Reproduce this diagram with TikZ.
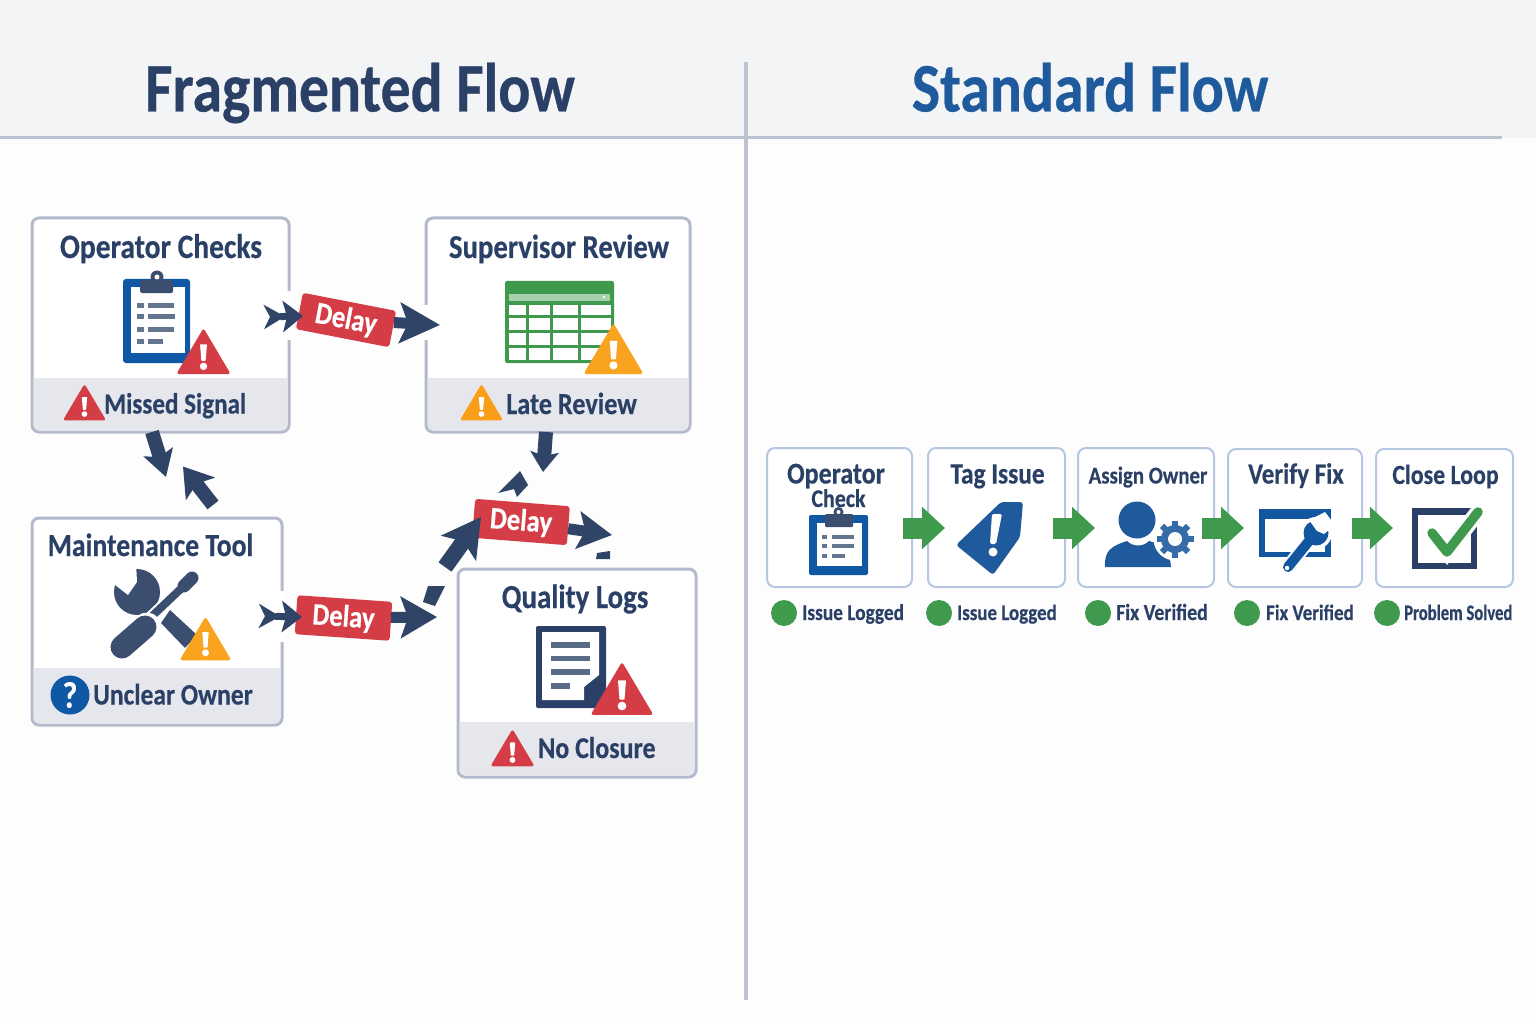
\documentclass[tikz,border=0pt]{standalone}
\usepackage{fontspec}
\setmainfont[FakeStretch=0.86,BoldFeatures={FakeBold=0.45}]{Carlito}
\usetikzlibrary{arrows.meta}

\definecolor{pagegray}{HTML}{FDFDFE}
\definecolor{headgray}{HTML}{F3F4F6}
\definecolor{rulegray}{HTML}{BCC2D1}
\definecolor{cardline}{HTML}{B2BACB}
\definecolor{bandgray}{HTML}{E6E7EC}
\definecolor{softblue}{HTML}{B5C7E0}
\definecolor{navyink}{HTML}{2B4066}
\definecolor{lagink}{HTML}{2F4466}
\definecolor{slateink}{HTML}{3B4E70}
\definecolor{listink}{HTML}{64768F}
\definecolor{blueink}{HTML}{1F5A9C}
\definecolor{boardblue}{HTML}{0F58A6}
\definecolor{alarmred}{HTML}{D43C46}
\definecolor{alarmamber}{HTML}{F9A31F}
\definecolor{okgreen}{HTML}{3F9A4E}
\definecolor{palegreen}{HTML}{A5D0AB}

\tikzset{
  paneltitle/.style={inner sep=0,anchor=base,font=\bfseries\fontsize{69.5}{72}\selectfont},
  cardtitle/.style={inner sep=0,anchor=base,text=navyink,font=\bfseries\fontsize{#1}{#1}\selectfont},
  bandtext/.style={inner sep=0,anchor=base west,text=navyink,font=\bfseries\fontsize{#1}{#1}\selectfont},
  statustext/.style={inner sep=0,anchor=base west,text=navyink,font=\bfseries\fontsize{#1}{#1}\selectfont},
  faultcard/.style={draw=cardline,fill=white,line width=3pt,rounded corners=7pt,inner sep=0,outer sep=0},
  flowcard/.style={draw=softblue,fill=white,line width=2pt,rounded corners=8pt,inner sep=0,outer sep=0},
  delaytag/.style={fill=alarmred,text=white,rounded corners=3pt,inner sep=0,outer sep=0,
    minimum width=95pt,minimum height=39pt,font=\bfseries\fontsize{31}{34}\selectfont},
  lagarrow/.style={lagink,line width=11pt},
  lagstub/.style={lagink,line width=7pt,
    {Stealth[reversed,length=21pt,width=24pt,inset=6pt]}-{Stealth[length=20pt,width=31pt,inset=4pt]}},
  lagbit/.style={fill=lagink},
  cardgap/.style={draw=white,line width=6pt},
  okarrow/.style={okgreen,line width=21pt,-{Triangle[length=23pt,width=41pt]}},
  okdot/.style={circle,fill=okgreen,inner sep=0,outer sep=0,minimum size=26pt}
}

\newcommand{\warnmark}[4]{
  \begin{scope}[shift={(#1,#2)},scale=#3]
    \filldraw[#4,line join=round,line width=3pt] (-.93,-.05) -- (.93,-.05) -- (0,-1.62) -- cycle;
    \fill[white,rounded corners=.5pt] (-.13,-1.12) -- (.13,-1.12) -- (.08,-.5) -- (-.08,-.5) -- cycle;
    \fill[white] (0,-.29) circle (.14);
  \end{scope}
}

\begin{document}
\begin{tikzpicture}[x=1pt,y=-1pt]
  \useasboundingbox (0,0) rectangle (1536,1024);
  \fill[pagegray] (0,0) rectangle (1536,1024);
  \fill[headgray] (0,0) rectangle (1536,138);
  \draw[rulegray,line width=3pt] (0,138) -- (1502,138);
  \draw[rulegray,line width=3.5pt] (746,62) -- (746,1000);

  \node[paneltitle,text=navyink] (fragtitle) at (360,111.5) {Fragmented Flow};
  \node[paneltitle,text=blueink] (stdtitle) at (1090,111.5) {Standard Flow};

  % fault cards
  \node[faultcard,minimum width=257pt,minimum height=214pt] (opcard) at (160.5,325) {};
  \node[faultcard,minimum width=264pt,minimum height=214pt] (supcard) at (558,325) {};
  \node[faultcard,minimum width=250pt,minimum height=207pt] (mtcard) at (157,621.5) {};
  \node[faultcard,minimum width=238pt,minimum height=208pt] (qlcard) at (577,673) {};

  \fill[bandgray] (33.5,378) [rounded corners=6pt] -- (33.5,430.5) -- (287.5,430.5) [sharp corners] -- (287.5,378) -- cycle;
  \fill[bandgray] (427.5,378) [rounded corners=6pt] -- (427.5,430.5) -- (688.5,430.5) [sharp corners] -- (688.5,378) -- cycle;
  \fill[bandgray] (33.5,668) [rounded corners=6pt] -- (33.5,723.5) -- (280.5,723.5) [sharp corners] -- (280.5,668) -- cycle;
  \fill[bandgray] (459.5,722) [rounded corners=6pt] -- (459.5,775.5) -- (694.5,775.5) [sharp corners] -- (694.5,722) -- cycle;

  \node[cardtitle=34.3] (optitle) at (161,258) {Operator Checks};
  \node[cardtitle=33.4] (suptitle) at (559,258) {Supervisor Review};
  \node[cardtitle=32.2] (mttitle) at (150.5,556) {Maintenance Tool};
  \node[cardtitle=33.6] (qltitle) at (575,608) {Quality Logs};

  \node[bandtext=29.2] (missed) at (104,413.5) {Missed Signal};
  \node[bandtext=30.5] (late) at (506,414) {Late Review};
  \node[bandtext=29.7] (unclear) at (93,704.5) {Unclear Owner};
  \node[bandtext=30.2] (noclose) at (538,758) {No Closure};

  % clipboard
  \fill[boardblue,rounded corners=3pt] (123,279) rectangle (190,363);
  \fill[white] (131,287) rectangle (185,353);
  \fill[slateink] (157,277) circle (6.5);
  \fill[white] (157,277) circle (2.5);
  \fill[slateink,rounded corners=1.5pt] (140,280) rectangle (173,293);
  \foreach \y/\e in {305/174,316.5/175,329/174,341/163} {
    \fill[listink] (137,\y-2.5) rectangle (144,\y+2.5);
    \fill[listink] (148,\y-2.5) rectangle (\e,\y+2.5);
  }
  \warnmark{203.5}{374}{26.5}{alarmred}
  \warnmark{84.5}{420}{20.5}{alarmred}

  % sheet
  \fill[okgreen,rounded corners=2pt] (505,281) rectangle (614,363);
  \fill[palegreen] (509,294) rectangle (610,301);
  \fill[white] (604,297) circle (1.3);
  \foreach \t/\b in {305/315,318/330,333/345,348/360} {
    \foreach \l/\r in {509/526,529/550,553/578,581/611} {
      \fill[white] (\l,\t) rectangle (\r,\b);
    }
  }
  \warnmark{613.5}{374}{29.5}{alarmamber}
  \warnmark{481.5}{420}{20.5}{alarmamber!85!orange}

  % tools
  \fill[slateink] (137,592) circle (23);
  \fill[white] (110,581) -- (128,595) -- (137,582) -- (136,562) -- (110,562) -- cycle;
  \fill[slateink] (170,610) -- (197,635) -- (185,648) -- (161,623) -- cycle;
  \draw[white,line width=12pt] (150,618) -- (186,584);
  \draw[slateink,line width=8pt] (150,618) -- (186,584);
  \draw[slateink,line width=13pt,line cap=round] (184,586) -- (192,578);
  \draw[white,line width=27pt,line cap=round] (122,647) -- (147,626);
  \draw[slateink,line width=23pt,line cap=round] (122,647) -- (145,627);
  \warnmark{205.5}{660}{25}{alarmamber}
  \fill[boardblue] (70,695) circle (19.5);
  \node[inner sep=0,text=white,font=\bfseries\fontsize{37}{38}\selectfont] (askmark) at (70,695) {?};

  % log sheet
  \fill[navyink,rounded corners=2pt] (536,626) rectangle (606,708);
  \fill[white] (542,632) -- (599,632) -- (599,675) -- (584,687) -- (584,700) -- (542,700) -- cycle;
  \foreach \y/\e in {645/590,658.5/590,672/590,686/570} {
    \fill[listink!80!navyink] (551,\y-2.7) rectangle (\e,\y+2.7);
  }
  \warnmark{622}{715}{31}{alarmred}
  \warnmark{512.5}{766}{21}{alarmred}

  % delay tags
  \node[delaytag,rotate=-11,minimum height=37pt] (delayA) at (346,320) {Delay};
  \node[delaytag,rotate=-4] (delayB) at (343.5,618) {Delay};
  \node[delaytag,rotate=-4.5] (delayC) at (521,522) {Delay};

  \draw[cardgap] ([shift={(0,-34)}]opcard.east) -- ([shift={(0,15)}]opcard.east);
  \draw[cardgap] ([shift={(0,-20)}]supcard.west) -- ([shift={(0,15)}]supcard.west);
  \draw[cardgap] ([shift={(0,-31)}]mtcard.east) -- ([shift={(0,20)}]mtcard.east);

  % lag connectors
  \coordinate (opstub) at (264,317);
  \coordinate (mtstub) at (259,616);
  \coordinate (opgap) at (166,477);
  \coordinate (mtgap) at (213,505);
  \coordinate (supgap) at (543,472);
  \coordinate (bendlow) at (445,567);
  \coordinate (bendhigh) at (612,535);
  \coordinate (bendtip) at (437,617);
  \draw[lagstub] (opstub) -- ([shift={(-43,-4)}]delayA.center);
  \draw[lagstub] (mtstub) -- ([shift={(-41.5,-1)}]delayB.center);
  \draw[lagarrow,-{Stealth[length=40pt,width=40pt,inset=8pt]}] (delayA) -- ([shift={(14,0)}]supcard.west);
  \draw[lagarrow,-{Stealth[length=36pt,width=41pt,inset=7pt]}] (delayB) -- (bendtip);
  \draw[lagarrow,-{Stealth[length=34pt,width=37pt,inset=7pt]}] (delayC) -- (bendhigh);
  \draw[lagarrow,line width=16pt,-{Stealth[length=38pt,width=42pt,inset=8pt]}] (bendlow) -- ([shift={(-40,-5)}]delayC.center);
  \draw[lagarrow,line width=14pt,-{Stealth[length=20pt,width=28pt,inset=4pt]}] ([shift={(-12,0)}]supcard.south) -- (supgap);
  \draw[lagarrow,line width=14pt,-{Stealth[length=26pt,width=30pt,inset=5pt]}] ([shift={(-8.5,0)}]opcard.south) -- (opgap);
  \draw[lagarrow,line width=14pt,-{Stealth[length=28pt,width=36pt,inset=6pt]}] (mtgap) -- ([shift={(26,-51.5)}]mtcard.north);
  \fill[lagbit] (498,493) -- (520,471) -- (528,485) -- (517,497) -- (514,489) -- cycle;
  \fill[lagbit] (428,586) -- (445,586) -- (435,606) -- (423,602) -- cycle;
  \fill[lagbit] (597,553) -- (610,551) -- (610,559) -- (596,559) -- cycle;

  % standard cards
  \node[flowcard,minimum width=145pt,minimum height=139pt] (stepa) at (839.5,517.5) {};
  \node[flowcard,minimum width=137pt,minimum height=139pt] (stepb) at (996.5,517.5) {};
  \node[flowcard,minimum width=136pt,minimum height=139pt] (stepc) at (1146,517.5) {};
  \node[flowcard,minimum width=134pt,minimum height=138pt] (stepd) at (1295,518) {};
  \node[flowcard,minimum width=137pt,minimum height=138pt] (stepe) at (1444.5,518) {};

  \node[cardtitle=30.2] (stepaname) at (836,483.5) {Operator};
  \node[cardtitle=25.5] (stepasub) at (838.5,507) {Check};
  \node[cardtitle=29.5] (stepbname) at (997.5,483.5) {Tag Issue};
  \node[cardtitle=24.2] (stepcname) at (1148,483.5) {Assign Owner};
  \node[cardtitle=29] (stepdname) at (1296,483.5) {Verify Fix};
  \node[cardtitle=27.7] (stepename) at (1445.5,484) {Close Loop};

  % small clipboard
  \fill[boardblue,rounded corners=2pt] (809,515) rectangle (868,575);
  \fill[white] (817,523) rectangle (862,566);
  \fill[slateink] (838.5,512) circle (5);
  \fill[white] (838.5,512) circle (2);
  \fill[slateink,rounded corners=1pt] (825,514) rectangle (853,527);
  \foreach \y/\e in {537/854,546/854,556/845} {
    \fill[listink] (822,\y-1.8) rectangle (827,\y+1.8);
    \fill[listink] (832,\y-1.8) rectangle (\e,\y+1.8);
  }

  % tag
  \fill[blueink,rounded corners=3pt] (1001,502) -- (1023,502) -- (1020,537) -- (993,575) -- (956,545) -- cycle;
  \fill[white,rounded corners=1.5pt] (992,514) -- (1002,514) -- (996,544) -- (990,544) -- cycle;
  \fill[white] (993,552) circle (4.5);

  % owner
  \fill[blueink] (1137,520) circle (18.5);
  \fill[blueink] (1105,567) .. controls (1104,550) and (1112,546) .. (1127,541) .. controls (1133,547) and (1143,547) .. (1149,541) .. controls (1164,545) and (1170,552) .. (1171,567) -- cycle;
  \fill[white] (1175,539) circle (21.5);
  \foreach \a in {0,45,...,315} {
    \draw[blueink!90!white,line width=6pt] ([shift={(\a:10)}]1175,539) -- ([shift={(\a:18.5)}]1175,539);
  }
  \fill[blueink!90!white] (1175,539) circle (14);
  \fill[white] (1175,539) circle (7);

  % window and spanner
  \fill[boardblue!90!navyink] (1259,509) rectangle (1331,557);
  \fill[white] (1265,519) rectangle (1325,552);
  \fill[white] (1322,516) circle (1.5);
  \draw[white,line width=14pt,line cap=round] (1288,567) -- (1313,536);
  \fill[white] (1316,533) circle (16);
  \draw[boardblue!90!navyink,line width=10pt,line cap=round] (1288,567) -- (1313,536);
  \fill[boardblue!90!navyink] (1316,533) circle (12.5);
  \fill[white] (1309,520) -- (1317,531) -- (1324,534) -- (1335,525) -- (1325,512) -- cycle;
  \fill[white] (1287,568) circle (2.2);

  % closed box
  \draw[navyink,line width=6.5pt] (1415,511.5) rectangle (1474,566);
  \draw[white,line width=16pt,line cap=round] (1432,533) -- (1447,552) -- (1478,512);
  \draw[okgreen,line width=9.5pt,line cap=round,line join=round] (1432,533) -- (1447,552) -- (1478,512);

  % standard connectors
  \draw[okarrow] ([shift={(-9,10.5)}]stepa.east) -- ([shift={(17,10.5)}]stepb.west);
  \draw[okarrow] ([shift={(-12,10.5)}]stepb.east) -- ([shift={(17,10.5)}]stepc.west);
  \draw[okarrow] ([shift={(-12,10.5)}]stepc.east) -- ([shift={(16,10)}]stepd.west);
  \draw[okarrow] ([shift={(-10,10)}]stepd.east) -- ([shift={(17,10)}]stepe.west);

  % status row
  \node[okdot] (dota) at (784,613) {};
  \node[okdot] (dotb) at (939,613) {};
  \node[okdot] (dotc) at (1098,613) {};
  \node[okdot] (dotd) at (1247,613) {};
  \node[okdot] (dote) at (1387,613) {};
  \node[statustext=22.5] (stata) at (802,620) {Issue Logged};
  \node[statustext=22] (statb) at (957,620) {Issue Logged};
  \node[statustext=23] (statc) at (1116,620) {Fix Verified};
  \node[statustext=22] (statd) at (1266,620) {Fix Verified};
  \node[statustext=22] (state) at (1404,620) {\scalebox{.88}[1]{Problem Solved}};
\end{tikzpicture}
\end{document}
